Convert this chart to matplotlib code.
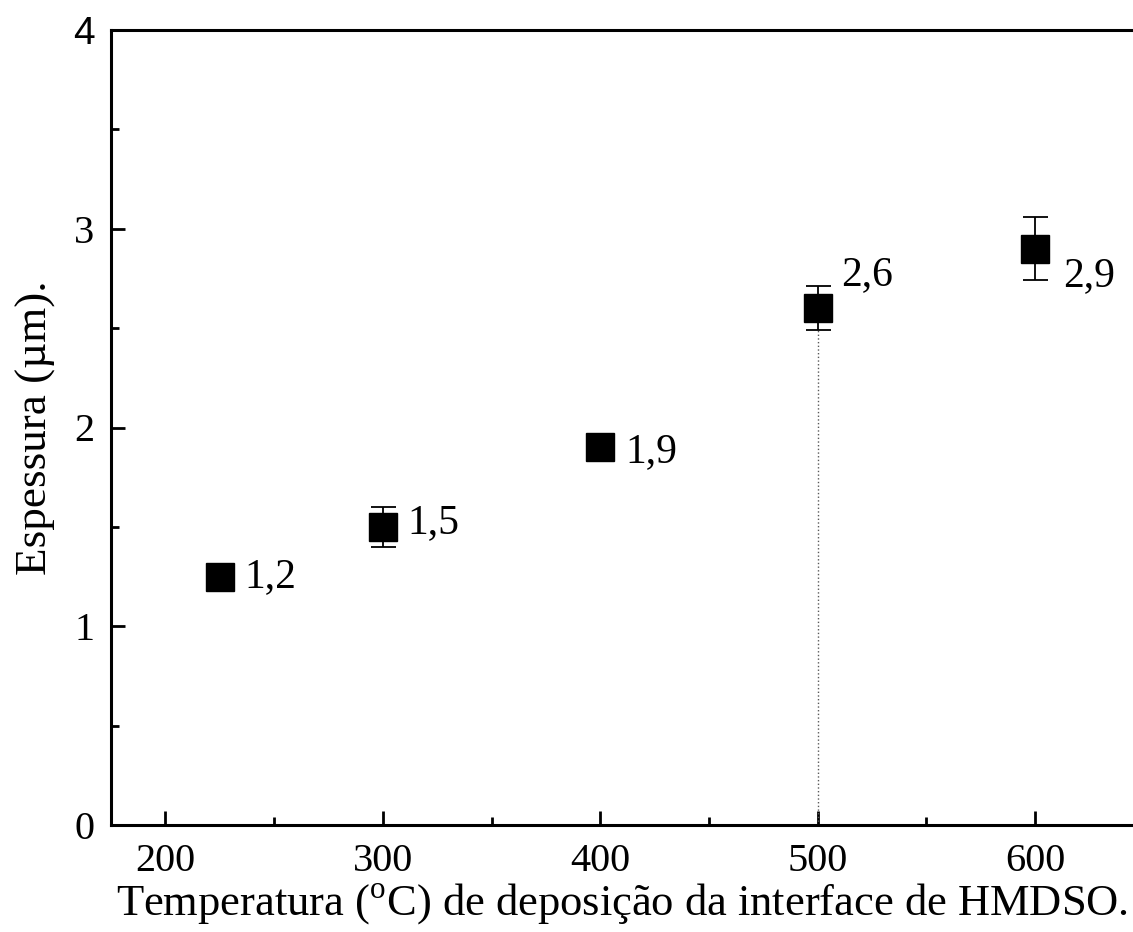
import matplotlib
matplotlib.use("Agg")
import matplotlib.pyplot as plt
from matplotlib.ticker import MultipleLocator

plt.rcParams['font.family'] = ['Liberation Serif', 'DejaVu Serif']
plt.rcParams['mathtext.fontset'] = 'custom'
plt.rcParams['mathtext.rm'] = 'Liberation Serif'

# ---- data ----
temperatura = [225, 300, 400, 500, 600]
espessura = [1.25, 1.5, 1.9, 2.6, 2.9]
erro = [0.04, 0.10, 0.04, 0.11, 0.16]
rotulos = [f"{v:.1f}".replace('.', ',') for v in espessura]

fig = plt.figure(figsize=(11.33, 9.32), dpi=100)
ax = fig.add_axes([111 / 1133, 1 - 825 / 932, (1133 - 111) / 1133, (825 - 30) / 932])

# dotted guide under the 500 C point
ax.plot([500, 500], [0, espessura[3] - erro[3]], ls=':', color='0.35', lw=1)

ax.errorbar(temperatura, espessura, yerr=erro, fmt='s', color='black',
            markersize=20.5, elinewidth=1.3, capsize=9, capthick=1.3, zorder=3)

# value labels next to each square
offsets = [(18, 0, 'left', 'center'),
           (18, 3, 'left', 'center'),
           (18, -3, 'left', 'center'),
           (17, 10, 'left', 'bottom'),
           (20, -6, 'left', 'top')]
for x, y, lab, (dx, dy, ha, va) in zip(temperatura, espessura, rotulos, offsets):
    ax.annotate(lab, (x, y), xytext=(dx, dy), textcoords='offset points',
                ha=ha, va=va, fontsize=30)

ax.set_xlim(175, 645)
ax.set_ylim(0, 4)
ax.xaxis.set_major_locator(MultipleLocator(100))
ax.xaxis.set_minor_locator(MultipleLocator(50))
ax.yaxis.set_major_locator(MultipleLocator(1))
ax.yaxis.set_minor_locator(MultipleLocator(0.5))

ax.spines['right'].set_visible(False)
for s in ('left', 'bottom', 'top'):
    ax.spines[s].set_linewidth(2.2)

ax.tick_params(which='both', direction='in', width=2, labelsize=29,
               top=False, right=False)
ax.tick_params(axis='x', pad=13)
ax.tick_params(axis='y', pad=12)
ax.tick_params(which='major', length=10)
ax.tick_params(which='minor', length=6)

fig.canvas.draw()
for t in ax.get_yticklabels():
    if t.get_text() == '4':
        t.set_family('Liberation Sans')
        t.set_fontsize(28)

ax.set_xlabel(r'Temperatura ($^{\rm o}$C) de deposição da interface de HMDSO.',
              fontsize=32, labelpad=1)
ax.set_ylabel('Espessura (µm).', fontsize=32.5, labelpad=12)

fig.savefig('out.png', dpi=100)
